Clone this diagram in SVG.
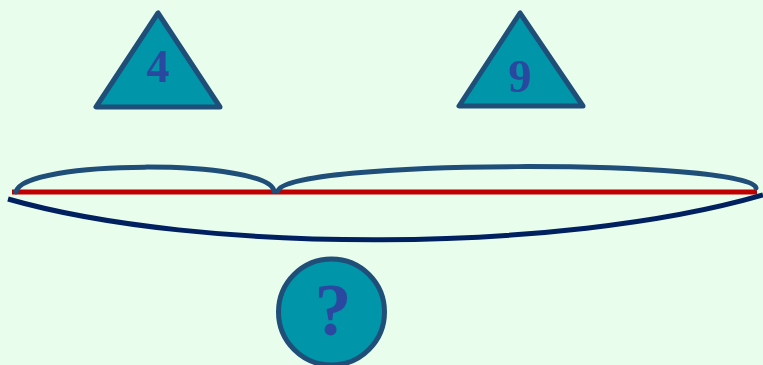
<svg xmlns="http://www.w3.org/2000/svg" width="763" height="365" viewBox="0 0 763 365">
<style>
.shape{fill:#0095a8;stroke:#1f4e79;stroke-width:5;stroke-linejoin:round}
.lbl{font-family:"Liberation Serif",serif;font-weight:bold;fill:#2b48a0;text-anchor:middle}
.brace{fill:none;stroke:#1f4e79;stroke-width:5;stroke-linecap:round}
</style>
<rect width="763" height="365" fill="#e8fdec"/>
<g id="connectors">
<line x1="12" y1="192" x2="757" y2="192" stroke="#c00000" stroke-width="5"/>
<path class="brace" d="M16,192 C22,159 268,159 274,191"/>
<path class="brace" d="M278,191 C284,159 751,159 756,188"/>
<path d="M8,199 C200,254 560,254 763,195" fill="none" stroke="#002060" stroke-width="5"/>
</g>
<g id="node-4">
<polygon class="shape" points="158,13 96,107 220,107"/>
<text class="lbl" x="158" y="82" font-size="46">4</text>
</g>
<g id="node-9">
<polygon class="shape" points="520,13 459,106 583,106"/>
<text class="lbl" x="520" y="92" font-size="46">9</text>
</g>
<g id="node-q">
<circle class="shape" cx="331.5" cy="312" r="53"/>
<text class="lbl" x="333" y="335" font-size="74">?</text>
</g>
</svg>
